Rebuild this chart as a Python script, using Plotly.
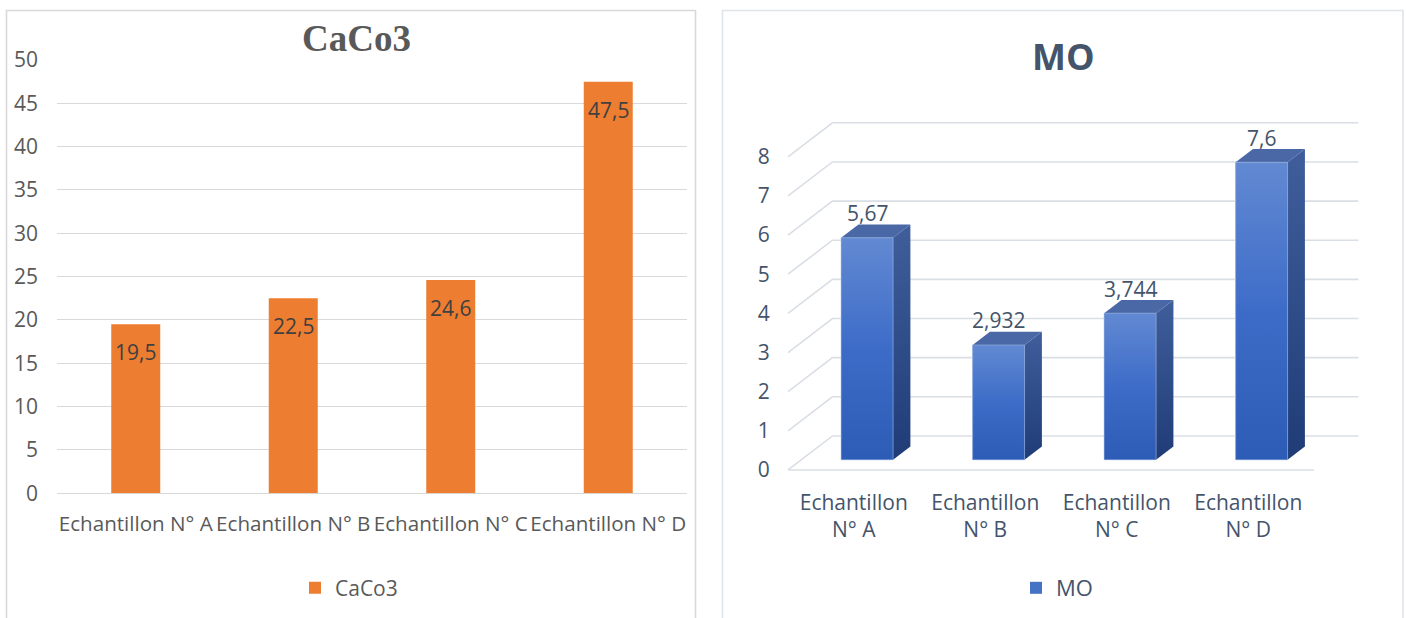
import plotly.graph_objects as go

W, H = 1406, 618

# ---- data -------------------------------------------------------------
samples = ["Echantillon N° A", "Echantillon N° B", "Echantillon N° C", "Echantillon N° D"]
sample_lines = ["Echantillon<br>N° A", "Echantillon<br>N° B", "Echantillon<br>N° C", "Echantillon<br>N° D"]
caco3 = [19.5, 22.5, 24.6, 47.5]
mo = [5.67, 2.932, 3.744, 7.6]
caco3_ticks = list(range(0, 51, 5))
mo_ticks = list(range(0, 9))

# ---- style ------------------------------------------------------------
FONT = "Open Sans"
FS = 21
ORANGE = "#ED7D31"
GREY_TXT = "#595959"
SLATE = "#44546A"
GRID_L = "#D9D9D9"
GRID_R = "#DADEE5"


def px_x(p):
    return p / W


def px_y(p):
    return 1 - p / H


def fmt(v):
    return str(v).replace(".", ",")


fig = go.Figure()

# ======================= left panel : CaCo3 columns =====================
fig.add_trace(go.Bar(
    x=samples, y=caco3, name="CaCo3", width=0.311,
    marker=dict(color=ORANGE, line=dict(width=0)),
    xaxis="x", yaxis="y", legend="legend", hoverinfo="skip",
))

annotations = []
for s, v in zip(samples, caco3):
    annotations.append(dict(
        x=s, y=v, xref="x", yref="y", yshift=-28, showarrow=False,
        text=fmt(v), font=dict(family=FONT, size=FS, color="#404040"),
    ))

# ======================= right panel : MO pseudo-3D columns ==============
# oblique depth of the floor/walls, in axis units
DX, DY = 0.338, 0.8685
X0, X1 = -0.5, 3.5
SHIFT = 0.3          # depth position of the columns' front face
BAR_W = 0.395
BAR_DEPTH = 0.39
LIFT = SHIFT * DY
OFF_X = SHIFT * DX
BDX, BDY = BAR_DEPTH * DX, BAR_DEPTH * DY

# back wall gridlines, side-wall diagonals and front floor edge
gx, gy = [], []
for k in mo_ticks:
    gx += [X0, X0 + DX, X1 + DX, None]
    gy += [k, k + DY, k + DY, None]
gx += [X0, X1, None]
gy += [0, 0, None]
fig.add_trace(go.Scatter(
    x=gx, y=gy, mode="lines", line=dict(color=GRID_R, width=1.6),
    xaxis="x2", yaxis="y2", showlegend=False, hoverinfo="skip",
))

xc = [i + OFF_X for i in range(len(mo))]

fig.add_trace(go.Bar(
    x=xc, y=mo, base=[LIFT] * len(mo), width=BAR_W, name="MO",
    marker=dict(color="#4472C4", line=dict(width=0)),
    xaxis="x2", yaxis="y2", legend="legend2", hoverinfo="skip",
))

for c, v in zip(xc, mo):
    xl, xr = c - BAR_W / 2, c + BAR_W / 2
    top = LIFT + v
    # right side face
    fig.add_trace(go.Scatter(
        x=[xr, xr + BDX, xr + BDX, xr, xr],
        y=[LIFT, LIFT + BDY, top + BDY, top, LIFT],
        mode="lines", line=dict(width=0), fill="toself",
        fillgradient=dict(type="vertical",
                          colorscale=[[0, "#1F3C77"], [1, "#3F5E9B"]]),
        xaxis="x2", yaxis="y2", showlegend=False, hoverinfo="skip",
    ))
    # top face
    fig.add_trace(go.Scatter(
        x=[xl, xr, xr + BDX, xl + BDX, xl],
        y=[top, top, top + BDY, top + BDY, top],
        mode="lines", line=dict(width=0), fill="toself", fillcolor="#4A67A6",
        xaxis="x2", yaxis="y2", showlegend=False, hoverinfo="skip",
    ))
    # shaded front face
    fig.add_trace(go.Scatter(
        x=[xl, xr, xr, xl, xl],
        y=[LIFT, LIFT, top, top, LIFT],
        mode="lines", line=dict(width=0.8, color="rgba(160,185,228,0.7)"),
        fill="toself",
        fillgradient=dict(type="vertical",
                          colorscale=[[0, "#2D5CB6"], [0.5, "#3D6CC8"], [1, "#6289D2"]]),
        xaxis="x2", yaxis="y2", showlegend=False, hoverinfo="skip",
    ))
    annotations.append(dict(
        x=c, y=top, xref="x2", yref="y2", yshift=24.5, showarrow=False,
        text=fmt(v), font=dict(family=FONT, size=FS, color=SLATE),
    ))

# ---- titles -----------------------------------------------------------
annotations.append(dict(
    x=px_x(357), y=px_y(38), xref="paper", yref="paper", showarrow=False,
    text="<b>CaCo3</b>", font=dict(family="Liberation Serif", size=37, color=GREY_TXT),
    xanchor="center", yanchor="middle",
))
annotations.append(dict(
    x=px_x(1063), y=px_y(57), xref="paper", yref="paper", showarrow=False,
    text="<b>MO</b>", font=dict(family=FONT, size=36, color=SLATE),
    xanchor="center", yanchor="middle",
))

# ---- panel frames -----------------------------------------------------
shapes = [
    dict(type="rect", xref="paper", yref="paper",
         x0=px_x(6.5), x1=px_x(695.5), y0=px_y(10.5), y1=px_y(660),
         line=dict(color=GRID_L, width=1.6), fillcolor="rgba(0,0,0,0)", layer="below"),
    dict(type="rect", xref="paper", yref="paper",
         x0=px_x(722.5), x1=px_x(1403), y0=px_y(10.5), y1=px_y(660),
         line=dict(color="#DFE4EB", width=1.6), fillcolor="rgba(0,0,0,0)", layer="below"),
]

fig.update_layout(
    width=W, height=H,
    margin=dict(l=0, r=0, t=0, b=0, autoexpand=False),
    paper_bgcolor="white", plot_bgcolor="white",
    font=dict(family=FONT, size=FS, color=GREY_TXT),
    hovermode=False,
    annotations=annotations,
    shapes=shapes,
    xaxis=dict(
        domain=[px_x(57), px_x(687)], anchor="y", type="category",
        range=[-0.5, 3.5], showgrid=False, zeroline=False, showline=False,
        ticks="", ticklabelstandoff=16, tickangle=0,
        tickfont=dict(family=FONT, size=20.6, color=GREY_TXT),
    ),
    yaxis=dict(
        domain=[px_y(493.3), px_y(60)], anchor="x",
        range=[0, 50], tickvals=caco3_ticks, showgrid=True,
        gridcolor=GRID_L, gridwidth=1.4, zeroline=True,
        zerolinecolor=GRID_L, zerolinewidth=1.4, showline=False,
        ticks="", ticklabelstandoff=18,
        tickfont=dict(family=FONT, size=FS, color=GREY_TXT),
    ),
    xaxis2=dict(
        domain=[px_x(774.85), px_x(1373.2)], anchor="y2",
        range=[-0.6, 3.95], tickvals=list(range(len(sample_lines))),
        ticktext=sample_lines, showgrid=False, zeroline=False, showline=False,
        ticks="", ticklabelstandoff=6, tickangle=0,
        tickfont=dict(family=FONT, size=FS, color=SLATE),
    ),
    yaxis2=dict(
        domain=[px_y(481.7), px_y(117.65)], anchor="x2",
        range=[-0.3, 9.0], tickvals=mo_ticks, ticktext=[str(t) for t in mo_ticks],
        showgrid=False, zeroline=False, showline=False,
        ticks="", ticklabelstandoff=4,
        tickfont=dict(family=FONT, size=FS, color=SLATE),
    ),
    barmode="overlay",
    legend=dict(
        orientation="h", x=px_x(295), y=px_y(588), xanchor="left", yanchor="middle",
        bgcolor="rgba(0,0,0,0)", font=dict(family=FONT, size=FS, color=GREY_TXT),
    ),
    legend2=dict(
        orientation="h", x=px_x(1016), y=px_y(588), xanchor="left", yanchor="middle",
        bgcolor="rgba(0,0,0,0)", font=dict(family=FONT, size=22, color=SLATE),
    ),
)

fig.write_html("out.html")
